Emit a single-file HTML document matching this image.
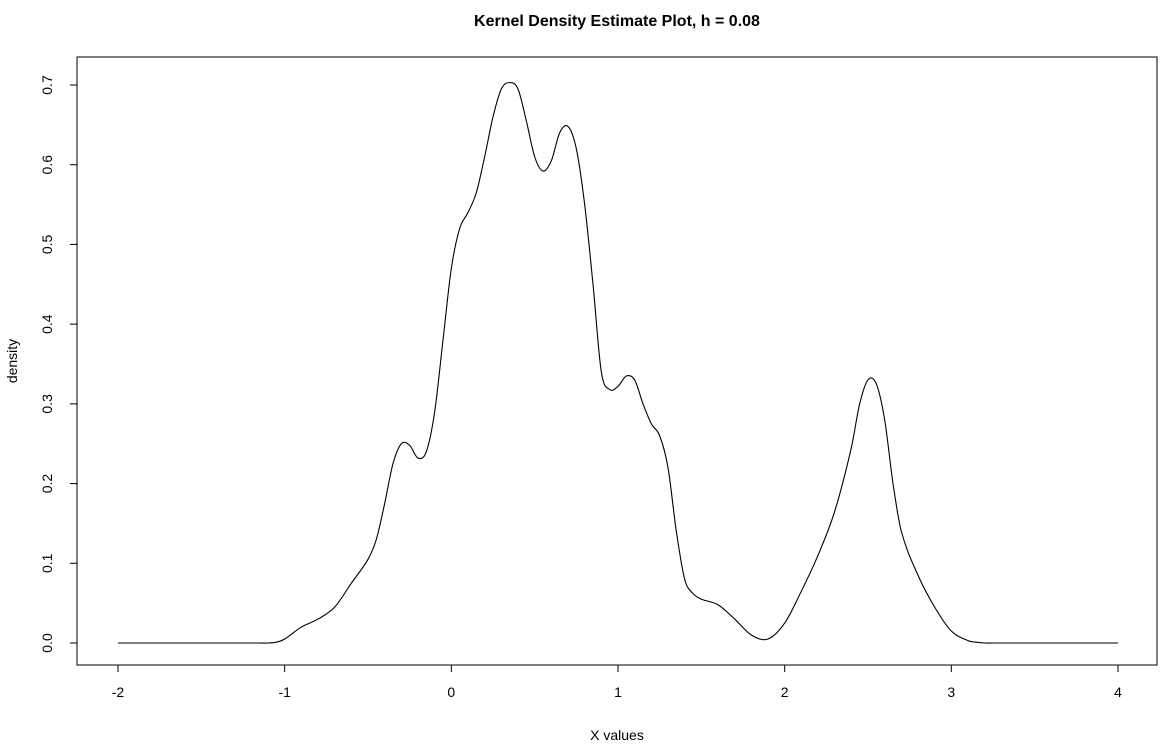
<!DOCTYPE html>
<html><head><meta charset="utf-8"><style>
body{margin:0;background:#fff;}
svg text{font-family:"Liberation Sans",Arial,sans-serif;fill:#000;}
</style></head><body>
<svg id="chart" width="1167" height="747">
<text x="617" y="26" text-anchor="middle" font-size="16" font-weight="bold">Kernel Density Estimate Plot, h = 0.08</text>
<rect x="77" y="57" width="1080" height="608" fill="none" stroke="#000"/>
<text x="617" y="740" text-anchor="middle" font-size="14">X values</text>
<text transform="translate(17,361) rotate(-90)" text-anchor="middle" font-size="14">density</text>
<g id="xaxis"></g>
<g id="yaxis"></g>
<path id="curve" fill="none" stroke="#000" stroke-width="1.1"/>
</svg>
<script>
const xTicks=[-2,-1,0,1,2,3,4];
const yTicks=[0,0.1,0.2,0.3,0.4,0.5,0.6,0.7];
const xs=[-2,-1.5,-1.2,-1.15,-1.1,-1.05,-1.0,-0.9,-0.8,-0.7,-0.6,-0.5,-0.45,-0.4,-0.35,-0.3,-0.25,-0.2,-0.15,-0.1,-0.05,0,0.05,0.1,0.15,0.2,0.25,0.3,0.35,0.4,0.45,0.5,0.55,0.6,0.65,0.7,0.75,0.8,0.85,0.9,0.95,1.0,1.05,1.1,1.15,1.2,1.25,1.3,1.35,1.4,1.45,1.5,1.6,1.7,1.8,1.9,2.0,2.1,2.2,2.3,2.4,2.45,2.5,2.55,2.6,2.65,2.7,2.8,2.9,3.0,3.1,3.15,3.2,3.25,3.5,4.0];
const ys=[0,0,0,0,0,0.001,0.005,0.02,0.03,0.045,0.075,0.105,0.13,0.175,0.225,0.25,0.248,0.232,0.24,0.29,0.38,0.47,0.52,0.54,0.565,0.61,0.66,0.695,0.703,0.695,0.655,0.61,0.592,0.605,0.64,0.648,0.62,0.55,0.45,0.34,0.318,0.322,0.335,0.33,0.3,0.275,0.26,0.22,0.14,0.08,0.062,0.055,0.048,0.03,0.01,0.005,0.025,0.065,0.11,0.165,0.245,0.3,0.33,0.325,0.28,0.2,0.14,0.085,0.045,0.015,0.003,0.001,0,0,0,0];
const X=v=>118+(v+2)*1000/6;
const Y=v=>643-v*(558/0.7);
const NS="http://www.w3.org/2000/svg";
const xa=document.getElementById('xaxis'),ya=document.getElementById('yaxis');
function mk(t,a){const e=document.createElementNS(NS,t);for(const k in a)e.setAttribute(k,a[k]);return e;}
let l=mk('line',{x1:X(-2),x2:X(4),y1:665,y2:665,stroke:'#000'});


xa.appendChild(l);
xTicks.forEach(v=>{
 const t=mk('line',{x1:X(v),x2:X(v),y1:665,y2:672,stroke:'#000'});
 
 
 xa.appendChild(t);
 const s=mk('text',{x:X(v),y:697,'text-anchor':'middle','font-size':14});
 s.textContent=v;
 
 
 xa.appendChild(s);
});
let l2=mk('line',{x1:77,x2:77,y1:Y(0),y2:Y(0.7),stroke:'#000'});


ya.appendChild(l2);
yTicks.forEach(v=>{
 const t=mk('line',{x1:70,x2:77,y1:Y(v),y2:Y(v),stroke:'#000'});
 
 
 ya.appendChild(t);
 const s=mk('text',{transform:`translate(52,${Y(v)}) rotate(-90)`,'text-anchor':'middle','font-size':14});
 s.textContent=v.toFixed(1);
 
 
 ya.appendChild(s);
});
// Monotone-ish Catmull-Rom smoothing with x-spacing correction
const P=xs.map((v,i)=>[X(v),Y(ys[i])]);
let d=`M${P[0][0]},${P[0][1]}`;
for(let i=0;i<P.length-1;i++){
 const p0=P[Math.max(0,i-1)],p1=P[i],p2=P[i+1],p3=P[Math.min(P.length-1,i+2)];
 const h=p2[0]-p1[0];
 const s1=(p2[1]-p0[1])/((p2[0]-p0[0])||1);
 const s2=(p3[1]-p1[1])/((p3[0]-p1[0])||1);
 const c1=[p1[0]+h/3,p1[1]+s1*h/3];
 const c2=[p2[0]-h/3,p2[1]-s2*h/3];
 d+=` C${c1[0]},${c1[1]} ${c2[0]},${c2[1]} ${p2[0]},${p2[1]}`;
}
document.getElementById('curve').setAttribute('d',d);
</script>
</body></html>
